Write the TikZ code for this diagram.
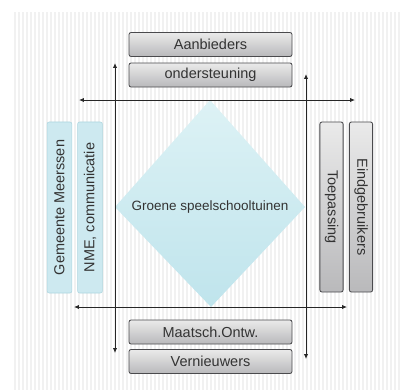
\documentclass[tikz,border=0pt]{standalone}
\usepackage{fontspec}
\setmainfont{Liberation Sans}
\usetikzlibrary{arrows.meta}
\definecolor{graytop}{HTML}{EAEAEA}
\definecolor{graybot}{HTML}{B9B9BB}
\definecolor{grayedge}{HTML}{4A4A4D}
\definecolor{bluefill}{HTML}{CDE9F0}
\definecolor{blueedge}{HTML}{ADD6DF}
\definecolor{diamtop}{HTML}{DDF2F5}
\definecolor{diambot}{HTML}{BFE4EC}
\definecolor{stripe}{HTML}{F1F1F1}

\begin{document}
\begin{tikzpicture}[x=0.025cm,y=-0.025cm,
  every node/.style={font=\fontsize{10.3}{12}\selectfont,text=black!80},
  graybox/.style={draw=grayedge,line width=0.6pt,rounded corners=1.5pt,top color=graytop,bottom color=graybot,
    minimum width=4.075cm,minimum height=0.6cm,inner sep=0pt},
  tallgray/.style={graybox,minimum width=4.25cm,minimum height=0.58cm,rotate=-90},
  bluebox/.style={draw=blueedge,fill=bluefill,rounded corners=1.5pt,
    minimum width=4.275cm,minimum height=0.62cm,inner sep=0pt,rotate=90},
  axis/.style={{Latex[length=3.5pt,width=3pt]}-{Latex[length=3.5pt,width=3pt]},line width=0.6pt,black!85}]
\useasboundingbox (0,0) rectangle (410,390);
\foreach \x in {15,19,...,399}
  \draw[stripe,line width=1.2pt] (\x,12) -- (\x,390);

\coordinate (dtop) at (210,100);
\coordinate (dright) at (305,207);
\coordinate (dbot) at (211,307);
\coordinate (dleft) at (115,207);
\shade[top color=diamtop,bottom color=diambot] (dtop) -- (dright) -- (dbot) -- (dleft) -- cycle;
\node[font=\fontsize{9.6}{11}\selectfont] (groene) at (210,207) {Groene speelschooltuinen};

\node[graybox] (aanb) at (210.5,44.5) {Aanbieders};
\node[graybox] (onder) at (210.5,75) {ondersteuning};
\node[graybox] (maat) at (210.5,332) {Maatsch.Ontw.};
\node[graybox] (vern) at (210.5,361.5) {Vernieuwers};

\node[bluebox] (gem) at (59.5,207.5) {Gemeente Meerssen};
\node[bluebox] (nme) at (90,207.5) {NME, communicatie};
\node[tallgray] (toep) at (331.5,207) {Toepassing};
\node[tallgray] (eind) at (361,207) {Eindgebruikers};

\coordinate (hl1) at (79,100);
\coordinate (hr1) at (355,100);
\coordinate (hl2) at (74,307);
\coordinate (hr2) at (347,307);
\coordinate (vt1) at (115,63);
\coordinate (vb1) at (115,353);
\coordinate (vt2) at (306,74);
\coordinate (vb2) at (306,359);
\draw[axis] (hl1) -- (hr1);
\draw[axis] (hl2) -- (hr2);
\draw[axis] (vt1) -- (vb1);
\draw[axis] (vt2) -- (vb2);
\end{tikzpicture}
\end{document}
